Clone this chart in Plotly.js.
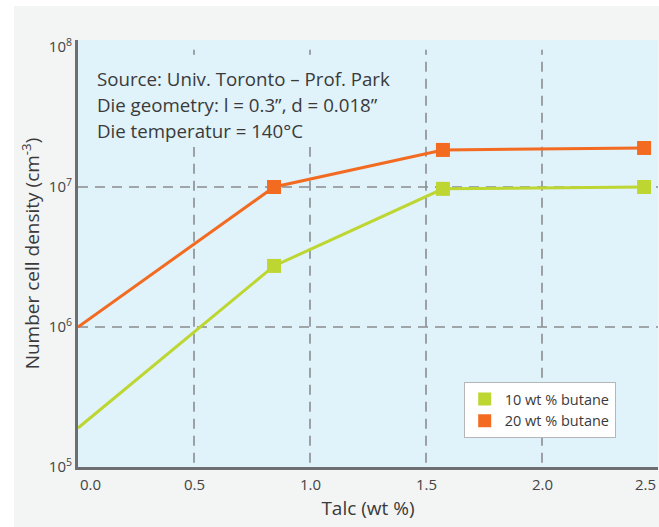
<!DOCTYPE html>
<html>
<head>
<meta charset="utf-8">
<script src="https://cdn.plot.ly/plotly-3.0.1.min.js"></script>
<style>
  html, body { margin: 0; padding: 0; background: #ffffff; }
  #chart { position: absolute; left: 14px; top: 6px; width: 645px; height: 521px; }
</style>
</head>
<body>
<div id="chart"></div>
<script>
// ---- data ----
const talc10 = [0, 0.845, 1.573, 2.44];
const density10 = [1.9e5, 2.73e6, 9.7e6, 1.0e7];
const talc20 = [0, 0.845, 1.573, 2.44];
const density20 = [1.0e6, 1.0e7, 1.84e7, 1.9e7];
const seriesNames = ['10 wt % butane', '20 wt % butane'];
const xTickVals = [0, 0.5, 1.0, 1.5, 2.0, 2.5];
const xTickText = ['0.0', '0.5', '1.0', '1.5', '2.0', '2.5'];
const yTickVals = [1e5, 1e6, 1e7, 1e8];
const yTickText = ['10<sup>5</sup>', '10<sup>6</sup>', '10<sup>7</sup>', '10<sup>8</sup>'];
const xGrid = [0.5, 1.0, 1.5, 2.0];
const yGrid = [1e6, 1e7];
const noteLines = ['Source: Univ. Toronto \u2013 Prof. Park', 'Die geometry: l = 0.3\u201D, d = 0.018\u201D', 'Die temperatur = 140\u00B0C'];

const green = '#bdd631';
const orange = '#f26b21';
const font = '"Open Sans", Lato, sans-serif';
const textColor = '#3a3a3a';
const plotBg = '#e0f2fa';

const traces = [
  { x: talc10, y: density10, mode: 'lines', line: { color: green, width: 3 }, showlegend: false, hoverinfo: 'skip' },
  { x: talc10.slice(1), y: density10.slice(1), mode: 'markers', marker: { symbol: 'square', size: 14, color: green }, showlegend: false },
  { x: talc20, y: density20, mode: 'lines', line: { color: orange, width: 3 }, showlegend: false, hoverinfo: 'skip' },
  { x: talc20.slice(1), y: density20.slice(1), mode: 'markers', marker: { symbol: 'square', size: 14, color: orange }, showlegend: false },
  { x: [null], y: [null], mode: 'markers', name: seriesNames[0], marker: { symbol: 'square', size: 13, color: green } },
  { x: [null], y: [null], mode: 'markers', name: seriesNames[1], marker: { symbol: 'square', size: 13, color: orange } }
];

const gridLine = { color: '#8a8c8f', width: 1.6, dash: '10px,7px' };
const shapes = [];
xGrid.forEach(v => shapes.push({ type: 'line', xref: 'x', yref: 'paper', x0: v, x1: v, y0: 0.01, y1: 0.977, layer: 'below', line: gridLine }));
yGrid.forEach(v => shapes.push({ type: 'line', xref: 'paper', yref: 'y', x0: 0, x1: 1, y0: v, y1: v, layer: 'below', line: gridLine }));
// background panel behind the note text (hides grid lines there)
shapes.push({ type: 'rect', xref: 'paper', yref: 'paper', x0: 0.02, x1: 0.555, y0: 0.75, y1: 0.955, layer: 'below', line: { width: 0 }, fillcolor: plotBg });

const annotations = [];
const noteY = [0.911, 0.849, 0.788];
noteLines.forEach((t, i) => annotations.push({
  xref: 'paper', yref: 'paper', x: 0.029, y: noteY[i], xanchor: 'left', yanchor: 'middle',
  showarrow: false, text: t, font: { family: font, size: 18.7, color: textColor }
}));
xTickVals.forEach((v, i) => annotations.push({
  xref: 'x', yref: 'paper', x: v, y: 0, yanchor: 'top', yshift: -5,
  xanchor: i === 0 ? 'left' : (i === xTickVals.length - 1 ? 'right' : 'center'),
  showarrow: false, text: xTickText[i], font: { family: font, size: 15, color: '#444' }
}));

const layout = {
  width: 645, height: 521,
  margin: { l: 64, r: 1, t: 34, b: 60 },
  paper_bgcolor: '#f3f4f4',
  plot_bgcolor: plotBg,
  font: { family: font, color: textColor },
  xaxis: {
    range: [0, 2.5], showgrid: false, zeroline: false,
    showline: true, linecolor: '#6d6e71', linewidth: 3,
    showticklabels: false, ticks: '',
    title: { text: 'Talc (wt %)', font: { family: font, size: 19, color: textColor }, standoff: 33 }
  },
  yaxis: {
    type: 'log', range: [5, 8.05], showgrid: false, zeroline: false,
    showline: true, linecolor: '#6d6e71', linewidth: 3,
    tickvals: yTickVals, ticktext: yTickText, ticks: '',
    tickfont: { family: font, size: 15, color: '#444' },
    title: { text: 'Number cell density (cm<sup>-3</sup>)', font: { family: font, size: 19, color: textColor }, standoff: 5 }
  },
  legend: {
    x: 0.665, y: 0.199, xanchor: 'left', yanchor: 'top',
    bgcolor: '#ffffff', bordercolor: '#b5b6b8', borderwidth: 1,
    font: { family: font, size: 14.5, color: textColor },
    tracegroupgap: 0, itemwidth: 30
  },
  shapes: shapes,
  annotations: annotations,
  showlegend: true
};

Plotly.newPlot('chart', traces, layout, { displayModeBar: false, staticPlot: true });
</script>
</body>
</html>
